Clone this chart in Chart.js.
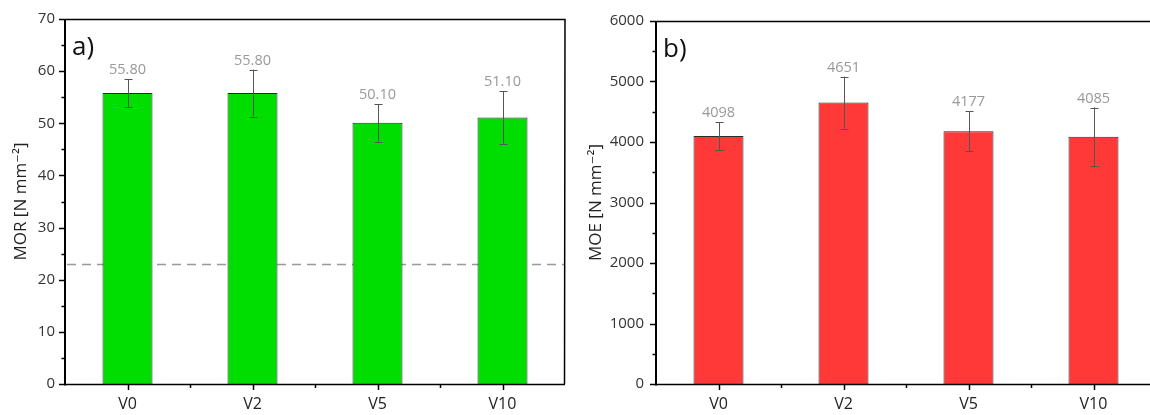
<!DOCTYPE html>
<html>
<head>
<meta charset="utf-8">
<script src="https://cdn.jsdelivr.net/npm/chart.js@4.4.1/dist/chart.umd.min.js"></script>
<style>
  html, body { margin: 0; padding: 0; background: #fff; overflow: hidden; }
  #wrap { position: relative; width: 1150px; height: 415px; overflow: hidden; }
  #c1 { position: absolute; left: 0; top: 0; }
  #c2 { position: absolute; left: 575px; top: 0; }
</style>
</head>
<body>
<div id="wrap">
  <canvas id="c1" width="575" height="415" style="width:575px;height:415px"></canvas>
  <canvas id="c2" width="585" height="415" style="width:585px;height:415px"></canvas>
</div>
<script>
// ---- data ----
const categories = ['V0', 'V2', 'V5', 'V10'];
const morMeans  = [55.8, 55.8, 50.1, 51.1];
const morErrors = [2.7, 4.5, 3.6, 5.0];
const morReference = 23;
const moeMeans  = [4098, 4651, 4177, 4085];
const moeErrors = [225, 430, 330, 485];
const morTickRange = [0, 70, 10, 5];     // min, max, major step, minor step
const moeTickRange = [0, 6000, 1000, 500];

const FONT = "'Open Sans', 'DejaVu Sans', sans-serif";

const decor = {
  id: 'decor',
  beforeDatasetsDraw(chart, args, o) {
    if (o.refLine == null) return;
    const ctx = chart.ctx, a = chart.chartArea, y = Math.round(chart.scales.y.getPixelForValue(o.refLine)) + 0.5;
    ctx.save();
    ctx.strokeStyle = '#999'; ctx.lineWidth = 1.5; ctx.setLineDash([9, 6]);
    ctx.beginPath(); ctx.moveTo(a.left + 2, y); ctx.lineTo(a.right, y); ctx.stroke();
    ctx.restore();
  },
  afterDatasetsDraw(chart, args, o) {
    const ctx = chart.ctx, ys = chart.scales.y;
    const meta = chart.getDatasetMeta(0);
    ctx.save();
    meta.data.forEach((bar, i) => {
      const v = o.values[i], e = o.errors[i];
      const x = Math.round(bar.x) + 0.5;
      const yt = ys.getPixelForValue(v + e), yb = ys.getPixelForValue(v - e);
      ctx.strokeStyle = '#555'; ctx.lineWidth = 1;
      ctx.beginPath();
      ctx.moveTo(x, yt); ctx.lineTo(x, yb);
      ctx.moveTo(x - 4, Math.round(yt) + 0.5); ctx.lineTo(x + 4, Math.round(yt) + 0.5);
      ctx.moveTo(x - 4, Math.round(yb) + 0.5); ctx.lineTo(x + 4, Math.round(yb) + 0.5);
      ctx.stroke();
      ctx.fillStyle = '#999';
      ctx.font = '14.5px ' + FONT;
      ctx.textAlign = 'center'; ctx.textBaseline = 'alphabetic';
      ctx.fillText(o.fmt(v), bar.x, yt - 5);
    });
    ctx.restore();
  },
  afterDraw(chart, args, o) {
    const ctx = chart.ctx, a = chart.chartArea, ys = chart.scales.y, xs = chart.scales.x;
    ctx.save();
    ctx.strokeStyle = '#000';
    // top & right frame
    ctx.lineWidth = 1.5;
    ctx.beginPath();
    ctx.moveTo(a.left, a.top + 0.5); ctx.lineTo(a.right, a.top + 0.5); ctx.lineTo(a.right - 0.5, a.bottom);
    ctx.stroke();
    // x axis
    ctx.beginPath(); ctx.moveTo(a.left, a.bottom + 0.5); ctx.lineTo(a.right, a.bottom + 0.5); ctx.stroke();
    // y axis
    ctx.lineWidth = 2;
    ctx.beginPath(); ctx.moveTo(a.left, a.top); ctx.lineTo(a.left, a.bottom + 1.5); ctx.stroke();
    // y ticks
    ctx.lineWidth = 1.5;
    const [mn, mx, maj, mnr] = o.ticks;
    for (let v = mn; v <= mx + 1e-9; v += mnr) {
      const y = Math.round(ys.getPixelForValue(v)) + 0.5;
      const len = (Math.abs(v / maj - Math.round(v / maj)) < 1e-9) ? 6 : 3.5;
      ctx.beginPath(); ctx.moveTo(a.left - len, y); ctx.lineTo(a.left, y); ctx.stroke();
    }
    // x ticks
    for (let i = 0; i < categories.length; i++) {
      const x = Math.round(xs.getPixelForValue(i)) + 0.5;
      ctx.beginPath(); ctx.moveTo(x, a.bottom); ctx.lineTo(x, a.bottom + 6); ctx.stroke();
      if (i < categories.length - 1) {
        const xm = Math.round(xs.getPixelForValue(i + 0.5)) + 0.5;
        ctx.beginPath(); ctx.moveTo(xm, a.bottom); ctx.lineTo(xm, a.bottom + 4); ctx.stroke();
      }
    }
    // panel label
    ctx.fillStyle = '#111';
    ctx.font = '26px ' + FONT;
    ctx.textAlign = 'left'; ctx.textBaseline = 'alphabetic';
    ctx.fillText(o.panel, a.left + 7, a.top + 36);
    ctx.restore();
  }
};

function makeChart(id, values, errors, color, ticks, title, panel, refLine, fmt, yWidth, padRight, labelPad) {
  return new Chart(document.getElementById(id), {
    type: 'bar',
    data: {
      labels: categories,
      datasets: [{
        data: values,
        backgroundColor: color,
        borderColor: '#2a2a2a',
        borderWidth: 1,
        categoryPercentage: 1,
        barPercentage: 0.4
      }]
    },
    options: {
      responsive: false,
      animation: false,
      layout: { padding: { left: 0, top: 16, right: padRight, bottom: 0 } },
      plugins: {
        legend: { display: false },
        tooltip: { enabled: false },
        decor: { values, errors, ticks, panel, refLine, fmt }
      },
      scales: {
        x: {
          offset: true,
          grid: { display: false, drawTicks: false },
          border: { display: false },
          ticks: { color: '#222', font: { family: FONT, size: 16 }, padding: 11, maxRotation: 0 },
          afterFit(s) { s.height = 31; }
        },
        y: {
          min: ticks[0], max: ticks[1],
          grid: { display: false, drawTicks: false },
          border: { display: false },
          ticks: { stepSize: ticks[2], color: '#333', font: { family: FONT, size: 15 }, padding: labelPad,
                   callback: v => String(v) },
          title: { display: true, text: title, color: '#222', font: { family: FONT, size: 17 }, padding: { top: 11, bottom: 0 } },
          afterFit(s) { s.width = yWidth; }
        }
      }
    },
    plugins: [decor]
  });
}

makeChart('c1', morMeans, morErrors, '#00DD00', morTickRange, 'MOR [N mm⁻²]', 'a)', morReference,
  v => v.toFixed(2), 65, 10, 10);
makeChart('c2', moeMeans, moeErrors, '#FF3838', moeTickRange, 'MOE [N mm⁻²]', 'b)', null,
  v => String(Math.round(v)), 81, 4, 12);
</script>
</body>
</html>
